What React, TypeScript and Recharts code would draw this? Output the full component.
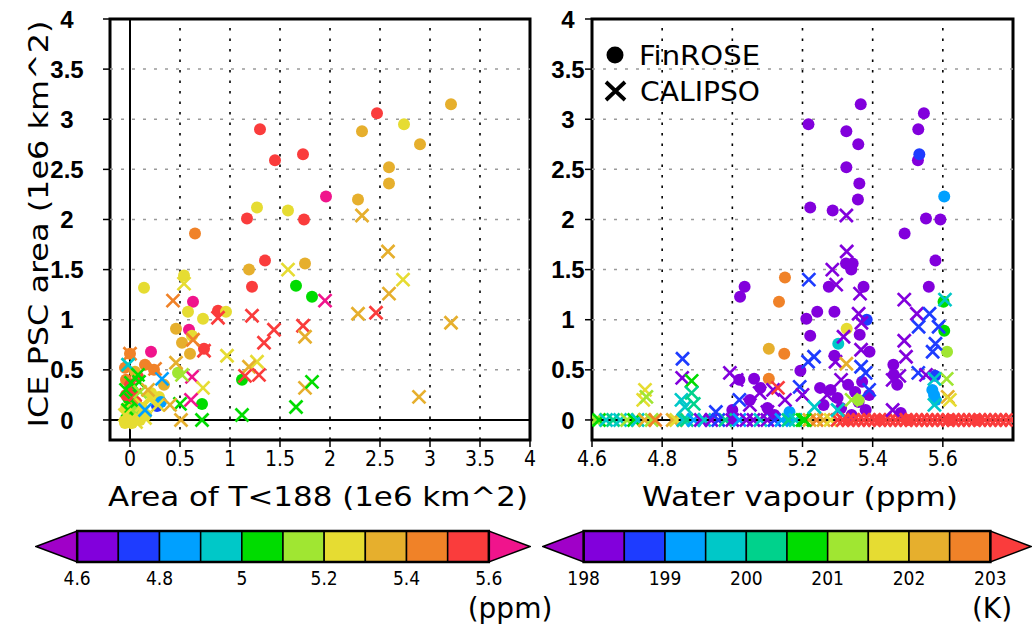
import React from 'react';
import { ScatterChart, Scatter, XAxis, YAxis, ReferenceLine, ReferenceArea } from 'recharts';

// ---- data -------------------------------------------------------------
// left panel rows: [area T<188, ICE PSC area, water vapour ppm]
type Row = [number, number, number];

const leftFinrose: Row[] = [
  [3.21, 3.15, 5.37], [2.47, 3.06, 5.55], [2.74, 2.95, 5.22], [2.32, 2.88, 5.33],
  [1.30, 2.90, 5.53], [2.90, 2.75, 5.36], [1.73, 2.65, 5.53], [1.45, 2.59, 5.53],
  [2.59, 2.52, 5.33], [2.59, 2.36, 5.36], [1.96, 2.23, 5.61], [2.28, 2.20, 5.36],
  [1.27, 2.12, 5.22], [1.58, 2.09, 5.29], [1.17, 2.01, 5.55], [1.74, 2.00, 5.59],
  [0.65, 1.86, 5.49], [1.35, 1.59, 5.58], [1.75, 1.56, 5.32], [1.19, 1.50, 5.34],
  [1.22, 1.33, 5.56], [1.66, 1.34, 5.03], [0.14, 1.32, 5.27], [1.82, 1.23, 5.02],
  [0.54, 1.44, 5.22], [0.63, 1.18, 5.61], [0.58, 1.08, 5.24], [0.73, 1.01, 5.21],
  [0.88, 1.09, 5.52], [0.96, 1.08, 5.26], [0.46, 0.91, 5.33], [0.59, 0.90, 5.62],
  [0.62, 0.84, 5.22], [0.52, 0.77, 5.36], [0.74, 0.71, 5.54], [0.60, 0.66, 5.35],
  [0.21, 0.68, 5.65], [0.15, 0.55, 5.45], [0.24, 0.50, 5.44], [1.12, 0.40, 5.04],
  [0.34, 0.35, 5.36], [0.72, 0.16, 5.06], [0.48, 0.47, 5.15], [0.00, 0.66, 5.45],
  [0.08, 0.43, 5.55], [0.29, 0.23, 5.25], [0.21, 0.27, 5.24], [0.27, 0.14, 4.78],
  [0.31, 0.18, 4.85], [-0.04, 0.12, 5.25], [0.00, 0.05, 5.22], [0.04, 0.02, 5.28],
  [-0.05, 0.00, 5.25], [0.08, 0.08, 5.26], [0.10, 0.00, 5.24], [-0.02, 0.22, 5.05],
  [0.02, 0.30, 5.04], [0.06, 0.18, 5.45], [-0.04, 0.40, 5.44], [0.12, 0.12, 5.22],
  [0.16, 0.05, 5.25], [0.03, 0.10, 5.15], [0.00, 0.35, 5.55], [-0.05, 0.52, 5.45],
  [-0.04, 0.25, 5.56], [0.05, 0.48, 5.35], [-0.05, -0.03, 5.26], [0.02, -0.03, 5.23],
];

const leftCalipso: Row[] = [
  [2.32, 2.04, 5.33], [2.58, 1.68, 5.33], [2.73, 1.40, 5.22], [2.59, 1.26, 5.36],
  [1.58, 1.50, 5.28], [1.95, 1.19, 5.62], [2.28, 1.06, 5.36], [2.46, 1.07, 5.55],
  [3.21, 0.97, 5.37], [2.89, 0.23, 5.36], [1.22, 1.04, 5.56], [1.44, 0.90, 5.53],
  [1.73, 0.94, 5.53], [1.75, 0.83, 5.32], [1.34, 0.77, 5.58], [0.88, 1.02, 5.52],
  [0.43, 1.19, 5.45], [0.54, 1.36, 5.22], [0.97, 0.64, 5.26], [1.27, 0.58, 5.22],
  [1.19, 0.53, 5.34], [1.15, 0.44, 5.55], [1.29, 0.45, 5.56], [1.75, 0.32, 5.35],
  [1.82, 0.38, 5.03], [1.66, 0.13, 5.04], [1.12, 0.05, 5.05], [0.72, 0.00, 5.06],
  [0.51, 0.00, 5.36], [0.74, 0.69, 5.54], [0.62, 0.43, 5.62], [0.73, 0.32, 5.25],
  [0.61, 0.20, 5.63], [0.46, 0.57, 5.35], [0.50, 0.16, 5.05], [0.63, 0.80, 5.45],
  [0.52, 0.45, 5.15], [0.32, 0.41, 4.85], [0.25, 0.51, 5.45], [0.28, 0.15, 5.25],
  [0.40, 0.15, 5.35], [0.00, 0.66, 5.45], [-0.02, 0.55, 4.93], [0.01, 0.37, 5.04],
  [0.09, 0.38, 5.03], [-0.04, 0.30, 5.05], [0.01, 0.20, 5.04], [-0.02, 0.10, 5.05],
  [0.05, 0.25, 5.55], [0.12, 0.15, 5.25], [0.00, 0.00, 5.25], [0.06, -0.02, 5.22],
  [0.15, 0.02, 5.24], [-0.05, 0.05, 5.27], [0.20, 0.20, 5.26], [0.10, 0.28, 5.15],
  [0.18, 0.30, 5.35], [0.15, 0.10, 4.86], [0.08, 0.45, 5.04],
];

// right panel rows: [water vapour ppm, ICE PSC area, temperature K]
const rightFinrose: Row[] = [
  [5.366, 3.15, 198.2], [5.546, 3.06, 198.3], [5.217, 2.95, 198.2], [5.530, 2.90, 198.3],
  [5.325, 2.88, 198.2], [5.359, 2.75, 198.3], [5.529, 2.59, 198.2], [5.533, 2.65, 198.8],
  [5.325, 2.52, 198.3], [5.362, 2.36, 198.2], [5.604, 2.23, 199.3], [5.358, 2.20, 198.2],
  [5.222, 2.12, 198.3], [5.286, 2.09, 198.2], [5.552, 2.01, 198.3], [5.593, 2.00, 198.2],
  [5.491, 1.86, 198.3], [5.579, 1.59, 198.2], [5.324, 1.56, 198.2], [5.343, 1.56, 198.3],
  [5.339, 1.50, 198.2], [5.150, 1.42, 202.7], [5.035, 1.33, 198.3], [5.560, 1.33, 198.2],
  [5.275, 1.33, 198.3], [5.374, 1.33, 198.2], [5.022, 1.23, 198.2], [5.133, 1.18, 202.6],
  [5.602, 1.18, 200.8], [5.242, 1.08, 198.3], [5.291, 1.08, 198.2], [5.211, 1.01, 198.2],
  [5.383, 1.00, 198.8], [5.326, 0.91, 201.7], [5.604, 0.89, 200.8], [5.363, 0.85, 198.2],
  [5.222, 0.84, 198.3], [5.302, 0.76, 199.7], [5.104, 0.71, 202.3], [5.148, 0.66, 202.7],
  [5.612, 0.68, 201.3], [5.391, 0.68, 198.2], [5.291, 0.64, 198.2], [5.459, 0.55, 198.3],
  [5.194, 0.49, 198.2], [5.062, 0.41, 198.2], [5.104, 0.41, 202.7], [5.020, 0.40, 198.3],
  [5.578, 0.44, 198.8], [5.575, 0.25, 199.3], [5.163, 0.08, 199.3], [5.280, 0.30, 198.2],
  [5.300, 0.22, 198.3], [5.310, 0.12, 198.2], [5.330, 0.35, 198.2], [5.350, 0.28, 198.3],
  [5.360, 0.18, 198.2], [5.370, 0.38, 198.2], [5.380, 0.10, 198.3], [5.390, 0.25, 198.2],
  [5.340, 0.05, 198.2], [5.260, 0.15, 198.3], [5.250, 0.32, 198.2], [5.050, 0.20, 198.2],
  [5.080, 0.32, 198.3], [5.100, 0.12, 198.2], [5.000, 0.10, 198.2], [5.120, 0.05, 198.3],
  [5.460, 0.45, 198.2], [5.470, 0.35, 198.3], [5.480, 0.07, 198.2], [5.570, 0.30, 199.3],
  [5.580, 0.20, 199.4], [5.360, 0.20, 201.3],
];

const rightCalipso: Row[] = [
  [5.325, 2.04, 198.2], [5.326, 1.68, 198.3], [5.285, 1.50, 198.2], [5.218, 1.40, 198.8],
  [5.296, 1.35, 198.3], [5.364, 1.26, 198.2], [5.490, 1.20, 198.2], [5.606, 1.20, 199.7],
  [5.360, 1.06, 198.2], [5.526, 1.06, 198.3], [5.562, 1.06, 198.8], [5.368, 0.97, 198.2],
  [5.531, 0.93, 198.8], [5.588, 0.93, 198.8], [5.317, 0.83, 198.2], [5.490, 0.79, 198.3],
  [5.579, 0.76, 198.8], [5.571, 0.68, 198.8], [5.367, 0.70, 198.2], [5.233, 0.63, 198.8],
  [5.216, 0.58, 198.8], [4.858, 0.61, 198.8], [5.495, 0.63, 198.2], [5.294, 0.58, 198.3],
  [4.857, 0.42, 198.2], [4.884, 0.39, 200.8], [5.380, 0.47, 198.8], [5.367, 0.53, 198.8],
  [5.530, 0.47, 198.8], [5.552, 0.45, 198.2], [5.476, 0.44, 198.3], [5.457, 0.40, 198.2],
  [4.993, 0.47, 198.2], [5.012, 0.40, 198.3], [5.116, 0.30, 198.2], [5.130, 0.32, 203.2],
  [5.078, 0.27, 198.3], [5.192, 0.33, 198.8], [5.200, 0.25, 198.2], [4.751, 0.30, 201.7],
  [4.746, 0.20, 201.7], [4.755, 0.23, 201.3], [4.855, 0.20, 199.7], [4.884, 0.27, 200.3],
  [4.865, 0.13, 199.7], [4.890, 0.16, 200.3], [4.953, 0.08, 198.8], [5.206, 0.00, 200.8],
  [5.234, 0.13, 199.7], [5.325, 0.56, 202.3], [5.611, 0.41, 201.3], [5.614, 0.23, 202.3],
  [5.620, 0.20, 201.7], [5.576, 0.41, 199.7], [5.576, 0.15, 199.7], [5.457, 0.10, 198.2],
  [5.050, 0.15, 198.2], [5.150, 0.20, 198.3], [5.270, 0.25, 198.2], [5.310, 0.40, 198.3],
  [5.390, 0.30, 198.8], [5.300, 0.10, 199.7], [5.340, 0.20, 201.3], [5.020, 0.20, 198.8],
  [5.100, 0.08, 198.3],
];

// cases with no ice PSC (area 0), [water vapour, temperature]
const zeroCalipso: [number, number][] = [
  [4.61, 201.3], [4.62, 200.8], [4.64, 199.7], [4.66, 200.3], [4.68, 199.7], [4.70, 201.3],
  [4.72, 200.8], [4.73, 199.7], [4.75, 202.3], [4.77, 201.3], [4.78, 202.7], [4.83, 202.3],
  [4.84, 201.7], [4.86, 199.7], [4.87, 200.3], [4.89, 199.3], [4.91, 198.2], [4.92, 199.7],
  [4.94, 198.3], [4.96, 198.8], [4.98, 200.3], [5.00, 198.2], [5.02, 199.3], [5.04, 198.2],
  [5.06, 198.3], [5.08, 199.7], [5.10, 198.2], [5.12, 198.8], [5.14, 199.3], [5.16, 200.3],
  [5.18, 199.7], [5.20, 200.8], [5.22, 202.3], [5.24, 202.7], [5.26, 202.3], [5.28, 201.7],
  [5.30, 203.2], [5.315, 203.4], [5.33, 203.2], [5.345, 203.3], [5.36, 203.2], [5.375, 203.5],
  [5.39, 203.2], [5.405, 203.3], [5.42, 203.2], [5.435, 203.4], [5.45, 203.2], [5.465, 203.3],
  [5.48, 203.2], [5.495, 203.6], [5.51, 203.2], [5.525, 203.3], [5.54, 203.2], [5.555, 203.4],
  [5.57, 203.2], [5.585, 203.3], [5.60, 203.2], [5.615, 203.5], [5.63, 203.2], [5.645, 203.3],
  [5.66, 203.2], [5.675, 203.4], [5.69, 203.2], [5.705, 203.3], [5.72, 203.2], [5.735, 203.5],
  [5.75, 203.2], [5.765, 203.3], [5.78, 203.2], [5.795, 203.4],
];
const zeroFinrose: [number, number][] = [
  [5.00, 198.2], [5.16, 199.3], [5.33, 203.2], [5.42, 203.3], [5.50, 203.2], [5.62, 203.4], [5.70, 203.2],
];

const yTicks = [0, 0.5, 1, 1.5, 2, 2.5, 3, 3.5, 4];
const gridY = [0.5, 1, 1.5, 2, 2.5, 3, 3.5];
const leftXTicks = [0, 0.5, 1, 1.5, 2, 2.5, 3, 3.5, 4];
const leftGridX = [0.5, 1, 1.5, 2, 2.5, 3, 3.5];
const rightXTicks = [4.6, 4.8, 5, 5.2, 5.4, 5.6];
const rightGridX = [4.8, 5, 5.2, 5.4, 5.6];

const wvTicks = [4.6, 4.8, 5, 5.2, 5.4, 5.6];
const tTicks = [198, 199, 200, 201, 202, 203];

const wvColors = ['#8200dc', '#1e3cff', '#00a0ff', '#00c8c8', '#00dc00', '#a0e632', '#e6dc32', '#e6af2d', '#f08228', '#fa3c3c'];
const tColors = ['#8200dc', '#1e3cff', '#00a0ff', '#00c8c8', '#00d28c', '#00dc00', '#a0e632', '#e6dc32', '#e6af2d', '#f08228'];

// ---- helpers ----------------------------------------------------------
const binColor = (v: number, lo: number, step: number, bins: string[], below: string, above: string) => {
  if (v < lo) return below;
  const i = Math.floor((v - lo) / step + 1e-9);
  return i >= bins.length ? above : bins[i];
};
const wvColor = (v: number) => binColor(v, 4.6, 0.1, wvColors, '#a000c8', '#f0148c');
const tColor = (v: number) => binColor(v, 198, 0.5, tColors, '#a000c8', '#fa3c3c');

const toPts = (rows: Row[], col: (v: number) => string) => rows.map(([x, y, v]) => ({ x, y, color: col(v) }));
const zeroPts = (rows: [number, number][]) => rows.map(([x, t]) => ({ x, y: 0, color: tColor(t) }));

const TITLE_FONT = '"DejaVu Sans", "Liberation Sans", sans-serif';
const TICK_FONT = '"DejaVu Sans Condensed", "DejaVu Sans", sans-serif';
const BOLD_FONT = '"Liberation Sans", Arial, sans-serif';

const Dot = (p: any) => <circle cx={p.cx} cy={p.cy} r={6} fill={p.payload.color} />;
const Cross = (p: any) => {
  const s = 6.5;
  const { cx, cy } = p;
  return (
    <path
      d={`M${cx - s},${cy - s}L${cx + s},${cy + s}M${cx - s},${cy + s}L${cx + s},${cy - s}`}
      stroke={p.payload.color}
      strokeWidth={2.7}
      fill="none"
    />
  );
};
const Nothing = () => <g />;

const YTick = (p: any) => (
  <text x={p.x} y={p.y} dy="0.36em" textAnchor="middle" fontFamily={BOLD_FONT} fontWeight={700} fontSize={24} fill="#000">
    {p.payload.value}
  </text>
);

const xTickStyle = { fontFamily: TICK_FONT, fontSize: 21, fill: '#000' };

// ---- panel ------------------------------------------------------------
const Panel = ({ left, width, yAxisWidth, yTickMargin, xDomain, xTicks, gridX, zeroX, circles, crosses }: any) => (
  <div style={{ position: 'absolute', left, top: 0 }}>
    <ScatterChart width={width} height={520} margin={{ top: 19, right: 9, bottom: 0, left: 0 }}>
      <XAxis
        type="number"
        dataKey="x"
        domain={xDomain}
        ticks={xTicks}
        allowDataOverflow
        axisLine={false}
        tickLine={{ stroke: '#000', strokeWidth: 1.5 }}
        tickSize={7}
        tickMargin={4}
        height={80}
        tick={xTickStyle}
        interval={0}
      />
      <YAxis
        type="number"
        dataKey="y"
        domain={[-0.2, 4]}
        ticks={yTicks}
        allowDataOverflow
        axisLine={false}
        tickLine={{ stroke: '#000', strokeWidth: 1.5 }}
        tickSize={7}
        tickMargin={yTickMargin}
        width={yAxisWidth}
        tick={<YTick />}
        interval={0}
      />
      {gridY.map((v) => (
        <ReferenceLine key={'gy' + v} y={v} stroke="#9a9a9a" strokeWidth={1.5} strokeDasharray="3 8" />
      ))}
      {gridX.map((v: number) => (
        <ReferenceLine key={'gx' + v} x={v} stroke="#000" strokeWidth={1.6} strokeDasharray="2.5 8" />
      ))}
      {zeroX !== undefined && <ReferenceLine x={zeroX} stroke="#000" strokeWidth={2} />}
      <ReferenceLine y={0} stroke="#000" strokeWidth={2} />
      {circles.map((d: any, i: number) => (
        <Scatter key={'c' + i} data={d} shape={<Dot />} isAnimationActive={false} />
      ))}
      {crosses.map((d: any, i: number) => (
        <Scatter key={'x' + i} data={d} shape={<Cross />} isAnimationActive={false} />
      ))}
      <ReferenceArea x1={xDomain[0]} x2={xDomain[1]} y1={-0.2} y2={4} fill="none" stroke="#000" strokeWidth={3} />
    </ScatterChart>
  </div>
);

// ---- colour bar -------------------------------------------------------
const Tip = (p: any) => {
  const { x, y, width, height, dir, color } = p;
  const pts =
    dir < 0
      ? `${x},${y + height / 2} ${x + width},${y} ${x + width},${y + height}`
      : `${x + width},${y + height / 2} ${x},${y} ${x},${y + height}`;
  return <polygon points={pts} fill={color} stroke="#000" strokeWidth={1.5} />;
};

const ColorBar = ({ left, width, lo, step, bins, below, above, ticks }: any) => {
  const hi = lo + step * bins.length;
  const anchors = ticks.map((t: number) => ({ x: t, y: 0.5 }));
  return (
    <div style={{ position: 'absolute', left, top: 525 }}>
      <ScatterChart width={width} height={64} margin={{ top: 6, right: 1, bottom: 0, left: 1 }}>
        <XAxis
          type="number"
          dataKey="x"
          domain={[lo - step, hi + step]}
          ticks={ticks}
          allowDataOverflow
          axisLine={false}
          tickLine={false}
          tickMargin={4}
          height={27}
          interval={0}
          tick={{ fontFamily: TICK_FONT, fontSize: 19, fill: '#000' }}
        />
        <YAxis type="number" dataKey="y" domain={[0, 1]} hide />
        <Scatter data={anchors} shape={<Nothing />} isAnimationActive={false} />
        <ReferenceArea x1={lo - step} x2={lo} y1={0} y2={1} shape={(p: any) => <Tip {...p} dir={-1} color={below} />} />
        <ReferenceArea x1={hi} x2={hi + step} y1={0} y2={1} shape={(p: any) => <Tip {...p} dir={1} color={above} />} />
        {bins.map((c: string, i: number) => (
          <ReferenceArea
            key={i}
            x1={lo + i * step}
            x2={lo + (i + 1) * step}
            y1={0}
            y2={1}
            fill={c}
            fillOpacity={1}
            stroke="#000"
            strokeWidth={1.5}
          />
        ))}
        <ReferenceArea x1={lo} x2={hi} y1={0} y2={1} fill="none" stroke="#000" strokeWidth={2.5} />
      </ScatterChart>
    </div>
  );
};

export default function App() {
  return (
    <div style={{ position: 'absolute', left: 0, top: 0, width: 1032, height: 631, background: '#fff', overflow: 'hidden' }}>
      <Panel
        left={0}
        width={539}
        yAxisWidth={110}
        yTickMargin={36}
        xDomain={[-0.2, 4]}
        xTicks={leftXTicks}
        gridX={leftGridX}
        zeroX={0}
        circles={[toPts(leftFinrose, wvColor)]}
        crosses={[toPts(leftCalipso, wvColor)]}
      />
      <Panel
        left={540}
        width={482}
        yAxisWidth={52}
        yTickMargin={17}
        xDomain={[4.6, 5.8]}
        xTicks={rightXTicks}
        gridX={rightGridX}
        circles={[zeroPts(zeroFinrose), toPts(rightFinrose, tColor)]}
        crosses={[zeroPts(zeroCalipso), toPts(rightCalipso, tColor)]}
      />
      <ColorBar left={35} width={496} lo={4.6} step={0.1} bins={wvColors} below="#a000c8" above="#f0148c" ticks={wvTicks} />
      <ColorBar left={542} width={490} lo={198} step={0.5} bins={tColors} below="#a000c8" above="#fa3c3c" ticks={tTicks} />

      <svg width={1032} height={631} style={{ position: 'absolute', left: 0, top: 0, pointerEvents: 'none' }}>
        <g fontFamily={TITLE_FONT} fill="#000">
          <text transform="translate(38,224) rotate(-90)" textAnchor="middle" dominantBaseline="central" fontSize={27} textLength={407} lengthAdjust="spacingAndGlyphs">
            ICE PSC area (1e6 km^2)
          </text>
          <text x={318} y={496} textAnchor="middle" dominantBaseline="central" fontSize={27} textLength={420} lengthAdjust="spacingAndGlyphs">
            Area of T&lt;188 (1e6 km^2)
          </text>
          <text x={800} y={496} textAnchor="middle" dominantBaseline="central" fontSize={27} textLength={316} lengthAdjust="spacingAndGlyphs">
            Water vapour (ppm)
          </text>
          <text x={510} y={608} textAnchor="middle" dominantBaseline="central" fontSize={28}>(ppm)</text>
          <text x={992} y={608} textAnchor="middle" dominantBaseline="central" fontSize={28}>(K)</text>
          <circle cx={615} cy={55} r={8.5} fill="#000" />
          <text x={639} y={56} dominantBaseline="central" fontSize={26} textLength={121} lengthAdjust="spacingAndGlyphs">FinROSE</text>
          <path d="M606,82L625,100M606,100L625,82" stroke="#000" strokeWidth={3.8} />
          <text x={640} y={92} dominantBaseline="central" fontSize={26} textLength={120} lengthAdjust="spacingAndGlyphs">CALIPSO</text>
        </g>
      </svg>
    </div>
  );
}
